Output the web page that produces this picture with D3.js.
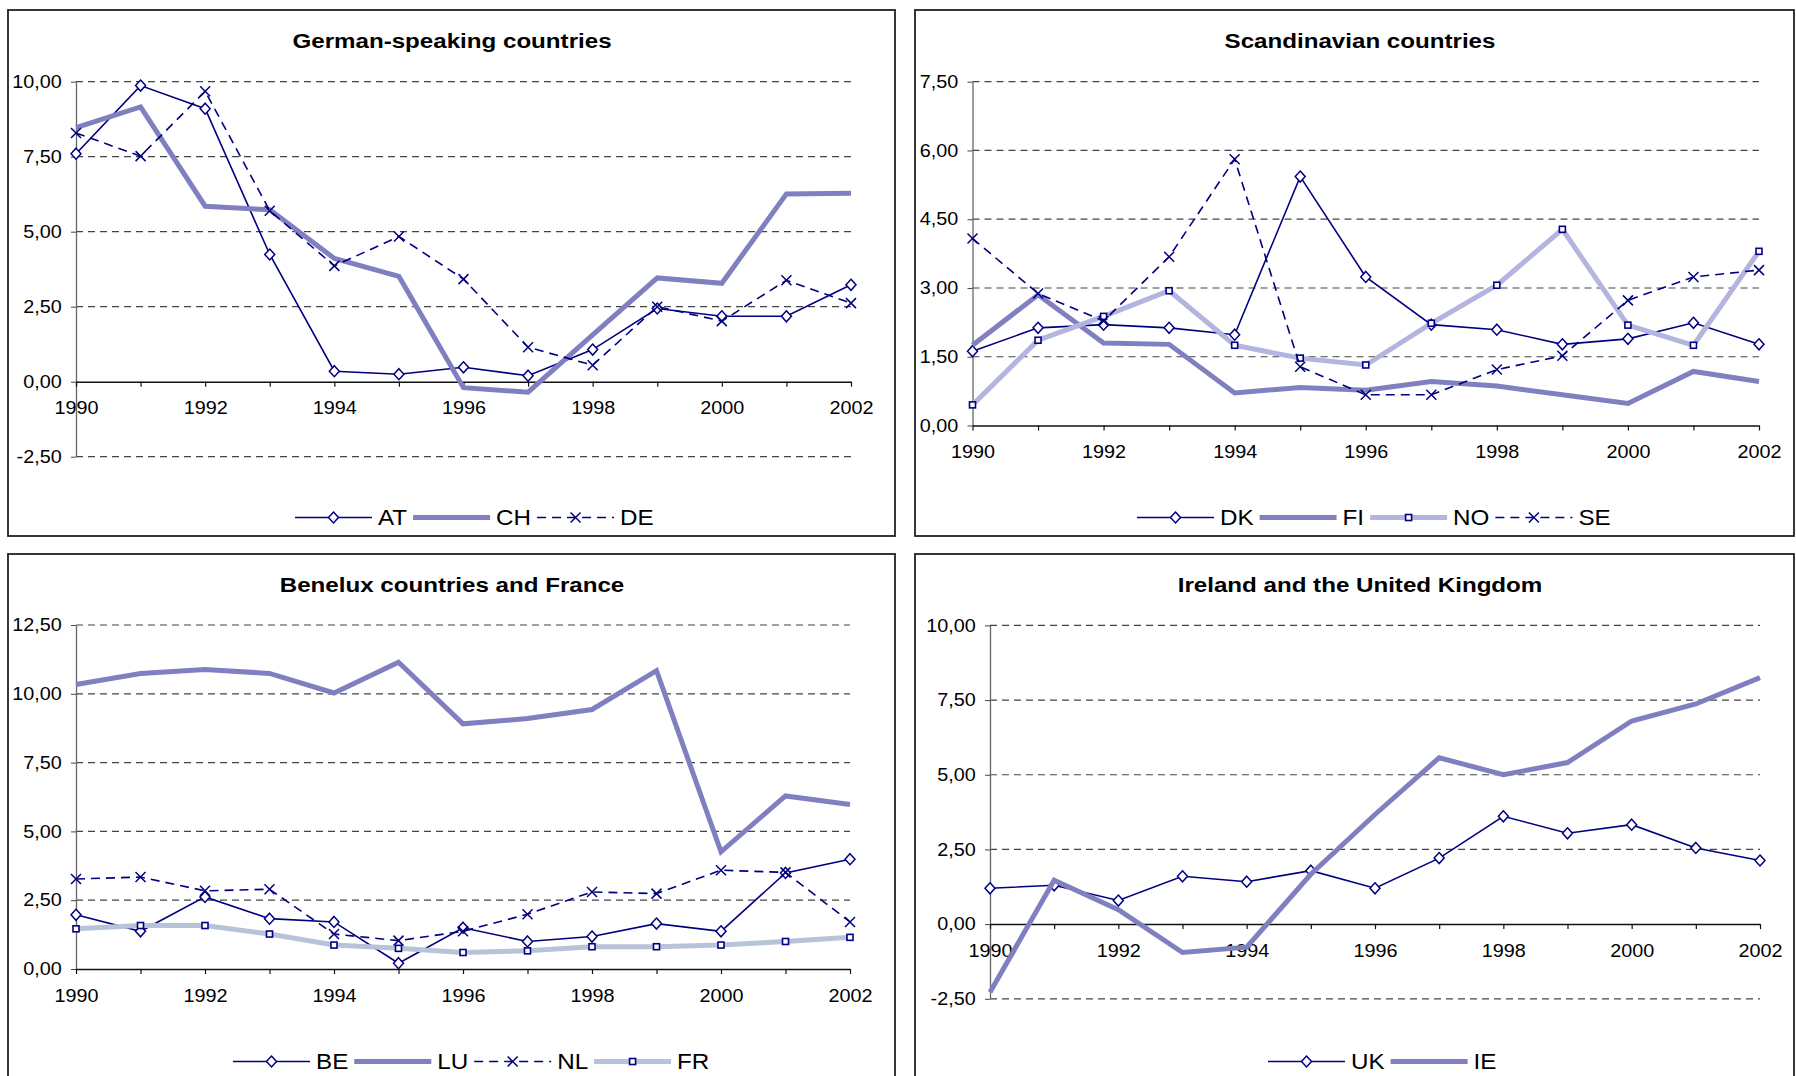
<!DOCTYPE html>
<html>
<head>
<meta charset="utf-8">
<script src="https://cdn.jsdelivr.net/npm/d3@7"></script>
<style>
  html, body { margin: 0; padding: 0; background: #fff; }
  svg { display: block; font-family: "Liberation Sans", Arial, Helvetica, sans-serif; }
</style>
</head>
<body>
<svg id="chart" width="1796" height="1076"></svg>
<script>
// ---- categories ----
const years = [1990, 1991, 1992, 1993, 1994, 1995, 1996, 1997, 1998, 1999, 2000, 2001, 2002];
const yearLabels = ["1990", "1992", "1994", "1996", "1998", "2000", "2002"];

// ---- German-speaking countries ----
const AT = [7.60, 9.87, 9.10, 4.24, 0.35, 0.25, 0.48, 0.20, 1.07, 2.44, 2.18, 2.18, 3.23];
const CH = [8.47, 9.16, 5.85, 5.73, 4.11, 3.51, -0.20, -0.35, 1.56, 3.46, 3.28, 6.26, 6.28];
const DE = [8.29, 7.52, 9.68, 5.70, 3.86, 4.84, 3.42, 1.15, 0.55, 2.50, 2.02, 3.38, 2.62];

// ---- Scandinavian countries ----
const DK = [1.62, 2.13, 2.20, 2.13, 1.98, 5.43, 3.24, 2.20, 2.09, 1.77, 1.89, 2.24, 1.77];
const FI = [1.75, 2.85, 1.80, 1.77, 0.71, 0.83, 0.77, 0.96, 0.86, 0.67, 0.48, 1.18, 0.96];
const NO = [0.45, 1.86, 2.38, 2.94, 1.75, 1.47, 1.32, 2.23, 3.06, 4.28, 2.19, 1.75, 3.80];
const SE = [4.08, 2.88, 2.28, 3.68, 5.81, 1.28, 0.67, 0.67, 1.22, 1.52, 2.73, 3.24, 3.39];

// ---- Benelux countries and France ----
const BE = [1.97, 1.37, 2.62, 1.83, 1.71, 0.21, 1.50, 1.00, 1.18, 1.65, 1.37, 3.49, 3.99];
const LU = [10.34, 10.74, 10.88, 10.74, 10.03, 11.15, 8.91, 9.10, 9.43, 10.84, 4.26, 6.29, 5.98];
const NL = [3.27, 3.34, 2.84, 2.90, 1.27, 1.03, 1.37, 1.99, 2.80, 2.74, 3.59, 3.51, 1.71];
const FR = [1.46, 1.58, 1.58, 1.27, 0.87, 0.75, 0.60, 0.66, 0.81, 0.81, 0.87, 1.00, 1.15];

// ---- Ireland and the United Kingdom ----
const UK = [1.20, 1.30, 0.79, 1.60, 1.42, 1.79, 1.20, 2.21, 3.61, 3.04, 3.33, 2.55, 2.13];
const IE = [-2.28, 1.47, 0.48, -0.95, -0.77, 1.67, 3.67, 5.57, 5.00, 5.41, 6.80, 7.37, 8.25];

// ---- value-axis ticks ----
const ticksGerman = [-2.5, 0, 2.5, 5, 7.5, 10];
const ticksScandinavian = [0, 1.5, 3, 4.5, 6, 7.5];
const ticksBenelux = [0, 2.5, 5, 7.5, 10, 12.5];
const ticksIreland = [-2.5, 0, 2.5, 5, 7.5, 10];

// ---- line styles ----
const NAVY = "#000080";
const STYLES = {
  diamond: { stroke: NAVY, width: 1.6, dash: null, marker: "diamond" },
  thick:   { stroke: "#8080c0", width: 5, dash: null, marker: null },
  cross:   { stroke: NAVY, width: 1.6, dash: "9,6", marker: "cross" },
  pale:    { stroke: "#b4b4e0", width: 5, dash: null, marker: "square" },
  steel:   { stroke: "#b7c4d7", width: 5, dash: null, marker: "square" }
};

// ---- panel layout ----
const panels = [
  {
    title: "German-speaking countries",
    box: { x: 8, y: 10, w: 887, h: 526 },
    plot: { x0: 76, x1: 851, yTop: 81.7, yBot: 456.7 },
    ticks: ticksGerman,
    titleX: 452,
    legendX: 295,
    series: [["AT", AT, "diamond"], ["CH", CH, "thick"], ["DE", DE, "cross"]]
  },
  {
    title: "Scandinavian countries",
    box: { x: 915, y: 10, w: 879, h: 526 },
    plot: { x0: 972.5, x1: 1759, yTop: 81.7, yBot: 425.5 },
    ticks: ticksScandinavian,
    titleX: 1360,
    legendX: 1137,
    series: [["DK", DK, "diamond"], ["FI", FI, "thick"], ["NO", NO, "pale"], ["SE", SE, "cross"]]
  },
  {
    title: "Benelux countries and France",
    box: { x: 8, y: 554, w: 887, h: 540 },
    plot: { x0: 76, x1: 850, yTop: 625, yBot: 969 },
    ticks: ticksBenelux,
    titleX: 452,
    legendX: 233,
    series: [["BE", BE, "diamond"], ["LU", LU, "thick"], ["NL", NL, "cross"], ["FR", FR, "steel"]]
  },
  {
    title: "Ireland and the United Kingdom",
    box: { x: 915, y: 554, w: 879, h: 540 },
    plot: { x0: 990, x1: 1760, yTop: 625.4, yBot: 998.8 },
    ticks: ticksIreland,
    titleX: 1360,
    legendX: 1268,
    series: [["UK", UK, "diamond"], ["IE", IE, "thick"]]
  }
];

const locale = d3.formatLocale({ decimal: ",", thousands: ".", grouping: [3], currency: ["", ""], minus: "-" });
const fmt = locale.format(".2f");

const svg = d3.select("#chart");

// draws a point marker of the given kind into a selection of groups
function drawMarker(sel, kind) {
  if (kind === "diamond") {
    sel.append("path")
      .attr("d", "M0,-5.5L5,0L0,5.5L-5,0Z")
      .attr("fill", "#fff").attr("stroke", NAVY).attr("stroke-width", 1.5);
  } else if (kind === "cross") {
    sel.append("path")
      .attr("d", "M-5,-5L5,5M-5,5L5,-5")
      .attr("fill", "none").attr("stroke", NAVY).attr("stroke-width", 1.5);
  } else if (kind === "square") {
    sel.append("rect")
      .attr("x", -3).attr("y", -3).attr("width", 6).attr("height", 6)
      .attr("fill", "#fff").attr("stroke", NAVY).attr("stroke-width", 1.6);
  }
}

// horizontally widened text, as the chart's lettering is set slightly wide
function wideText(parent, x, y, str, size, weight, anchor, sx) {
  const g = parent.append("g").attr("transform", `translate(${x},${y}) scale(${sx},1)`);
  const t = g.append("text")
    .attr("x", 0).attr("y", 0)
    .attr("font-size", size)
    .attr("font-weight", weight)
    .attr("text-anchor", anchor)
    .attr("fill", "#000")
    .text(str);
  return t;
}

panels.forEach(p => {
  const g = svg.append("g");

  // frame
  g.append("rect")
    .attr("x", p.box.x).attr("y", p.box.y)
    .attr("width", p.box.w).attr("height", p.box.h)
    .attr("fill", "#fff").attr("stroke", "#222").attr("stroke-width", 1.8);

  const x = d3.scaleLinear().domain([years[0], years[years.length - 1]]).range([p.plot.x0, p.plot.x1]);
  const y = d3.scaleLinear().domain([p.ticks[0], p.ticks[p.ticks.length - 1]]).range([p.plot.yBot, p.plot.yTop]);

  // dashed gridlines
  g.append("g").selectAll("line")
    .data(p.ticks.filter(t => t !== 0))
    .join("line")
    .attr("x1", x(years[0])).attr("x2", x(years[years.length - 1]))
    .attr("y1", d => y(d)).attr("y2", d => y(d))
    .attr("stroke", "#444").attr("stroke-width", 1.2)
    .attr("stroke-dasharray", "7,5");

  // value axis
  const ya = g.append("g")
    .attr("transform", `translate(${x(years[0])},0)`)
    .call(d3.axisLeft(y).tickValues(p.ticks).tickFormat(fmt).tickSize(5).tickPadding(8).tickSizeOuter(0));
  ya.select(".domain").attr("stroke", "#666").attr("stroke-width", 1.3);
  ya.selectAll(".tick line").attr("stroke", "#444");
  ya.attr("font-size", null).attr("font-family", null);
  ya.selectAll(".tick text")
    .attr("font-size", 18).attr("fill", "#000")
    .attr("transform", "scale(1.1,1)");

  // category axis, crossing at zero
  const xa = g.append("g")
    .attr("transform", `translate(0,${y(0)})`)
    .call(d3.axisBottom(x).tickValues(years)
      .tickFormat(d => yearLabels.includes(String(d)) ? String(d) : "")
      .tickSize(5).tickPadding(15).tickSizeOuter(0));
  xa.select(".domain").attr("stroke", "#111").attr("stroke-width", 1.5);
  xa.selectAll(".tick line").attr("stroke", "#111").attr("stroke-width", 1.2);
  xa.attr("font-size", null).attr("font-family", null);
  xa.selectAll(".tick text")
    .attr("font-size", 18).attr("fill", "#000")
    .attr("transform", "scale(1.1,1)");

  // series
  const line = d3.line().x((d, i) => x(years[i])).y(d => y(d));
  p.series.forEach(([name, values, styleKey]) => {
    const st = STYLES[styleKey];
    g.append("path")
      .datum(values)
      .attr("d", line)
      .attr("fill", "none")
      .attr("stroke", st.stroke)
      .attr("stroke-width", st.width)
      .attr("stroke-linejoin", "miter")
      .attr("stroke-dasharray", st.dash);
    if (st.marker) {
      const m = g.append("g").selectAll("g")
        .data(values)
        .join("g")
        .attr("transform", (d, i) => `translate(${x(years[i])},${y(d)})`);
      drawMarker(m, st.marker);
    }
  });

  // title
  wideText(g, p.titleX, p.box.y + 38, p.title, 21, "bold", "middle", 1.15);

  // legend
  const lineY = p.box.y + 507.5;
  const sampleLen = 77;
  let cx = p.legendX;
  p.series.forEach(([name, values, styleKey]) => {
    const st = STYLES[styleKey];
    g.append("line")
      .attr("x1", cx).attr("x2", cx + sampleLen)
      .attr("y1", lineY).attr("y2", lineY)
      .attr("stroke", st.stroke).attr("stroke-width", st.width)
      .attr("stroke-dasharray", st.dash);
    if (st.marker) {
      const m = g.append("g").attr("transform", `translate(${cx + sampleLen / 2},${lineY})`);
      drawMarker(m, st.marker);
    }
    cx += sampleLen + 6;
    const t = wideText(g, cx, lineY + 7, name, 22, "normal", "start", 1.1);
    cx += t.node().getComputedTextLength() * 1.1 + 6;
  });
});
</script>
</body>
</html>
